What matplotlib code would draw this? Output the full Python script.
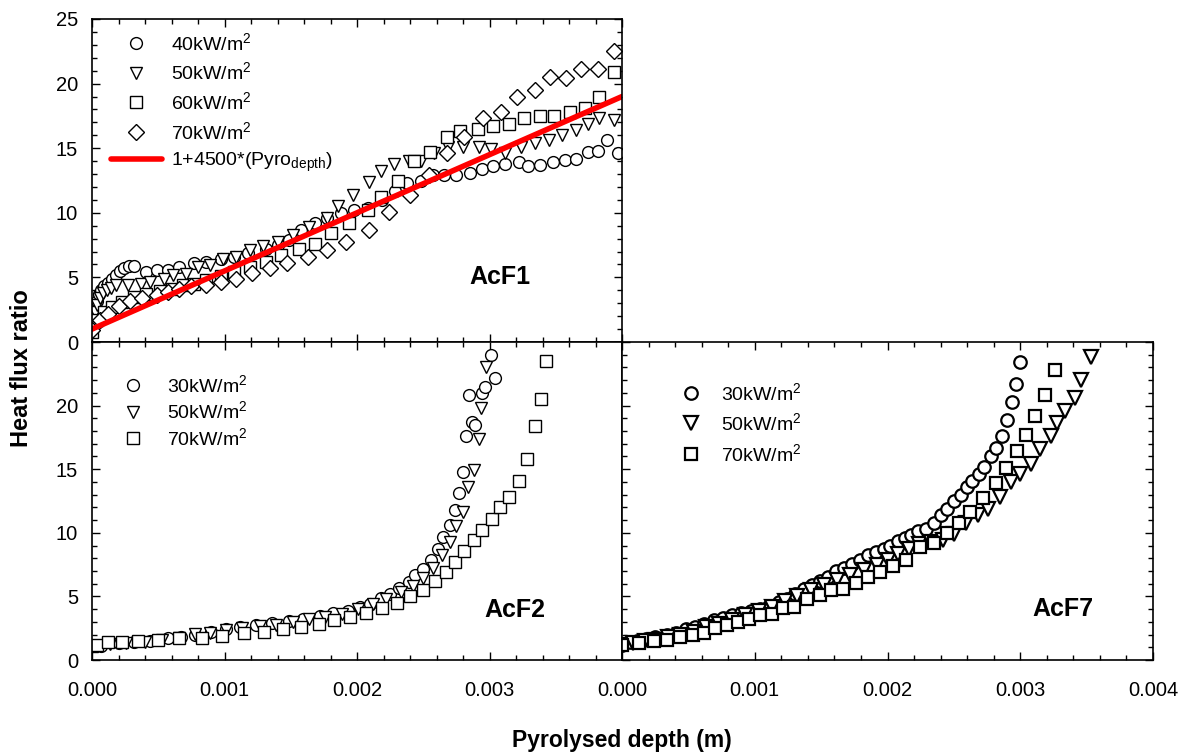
import numpy as np
import matplotlib
matplotlib.use("Agg")
import matplotlib.pyplot as plt
from matplotlib.ticker import MultipleLocator, FormatStrFormatter

plt.rcParams['font.family'] = ['Liberation Sans', 'DejaVu Sans']
plt.rcParams['mathtext.fontset'] = 'custom'
plt.rcParams['mathtext.rm'] = 'Liberation Sans'
plt.rcParams['mathtext.it'] = 'Liberation Sans:italic'
plt.rcParams['mathtext.bf'] = 'Liberation Sans:bold'

# ---------------- AcF1 (x in mm) ----------------
acf1_40_x = [0.00, 0.01, 0.02, 0.035, 0.05, 0.07, 0.09, 0.12, 0.15, 0.18, 0.21, 0.24, 0.28, 0.32, 0.41,
             0.49, 0.57, 0.66, 0.77, 0.86, 0.97, 1.07, 1.18, 1.31, 1.40, 1.49, 1.58, 1.68, 1.77, 1.88,
             1.98, 2.08, 2.19, 2.29, 2.38, 2.48, 2.57, 2.66, 2.75, 2.85, 2.94, 3.03, 3.12, 3.22, 3.29,
             3.38, 3.48, 3.57, 3.65, 3.74, 3.82, 3.89, 3.97]
acf1_40_y = [1.0, 1.8, 2.6, 3.2, 3.7, 4.0, 4.3, 4.6, 4.9, 5.2, 5.5, 5.75, 5.9, 5.85, 5.45,
             5.55, 5.6, 5.8, 6.1, 6.2, 6.45, 6.6, 6.85, 7.2, 7.5, 7.9, 8.7, 9.2, 9.6, 10.0,
             10.2, 10.35, 11.0, 11.7, 12.3, 12.5, 12.9, 12.9, 12.9, 13.1, 13.4, 13.6, 13.8, 13.9, 13.65,
             13.7, 13.9, 14.1, 14.2, 14.7, 14.8, 15.6, 14.6]

acf1_50_x = [0.00, 0.01, 0.025, 0.04, 0.06, 0.08, 0.11, 0.14, 0.18, 0.27, 0.37, 0.44, 0.54, 0.61, 0.71,
             0.80, 0.89, 0.99, 1.09, 1.19, 1.29, 1.40, 1.52, 1.64, 1.77, 1.86, 1.97, 2.09, 2.18, 2.28,
             2.39, 2.48, 2.58, 2.69, 2.80, 2.92, 3.01, 3.12, 3.24, 3.34, 3.45, 3.55, 3.65, 3.74, 3.83, 3.94]
acf1_50_y = [1.0, 1.6, 2.3, 2.9, 3.4, 3.8, 4.0, 4.2, 4.4, 4.4, 4.5, 4.65, 4.9, 5.2, 5.25,
             5.8, 5.95, 6.46, 6.6, 7.1, 7.4, 7.75, 8.3, 8.9, 9.6, 10.5, 11.4, 12.4, 13.2, 13.8,
             14.0, 14.0, 14.6, 15.1, 15.1, 15.1, 14.9, 14.6, 15.1, 15.4, 15.6, 16.0, 16.4, 16.9, 17.3, 17.2]

acf1_60_x = [0.00, 0.04, 0.09, 0.15, 0.23, 0.32, 0.41, 0.51, 0.60, 0.69, 0.77, 0.86, 0.97, 1.07, 1.19,
             1.31, 1.43, 1.56, 1.68, 1.80, 1.94, 2.08, 2.18, 2.31, 2.43, 2.55, 2.68, 2.78, 2.91, 3.03,
             3.15, 3.26, 3.38, 3.49, 3.61, 3.72, 3.83, 3.94]
acf1_60_y = [0.8, 1.7, 2.3, 2.7, 3.1, 3.5, 3.75, 3.95, 4.1, 4.4, 4.5, 4.8, 5.1, 5.4, 5.8,
             6.2, 6.7, 7.2, 7.6, 8.4, 9.2, 10.2, 11.2, 12.5, 14.0, 14.7, 15.9, 16.3, 16.5, 16.7,
             16.9, 17.3, 17.5, 17.5, 17.8, 18.1, 19.0, 20.9]

acf1_70_x = [0.00, 0.06, 0.12, 0.20, 0.29, 0.38, 0.49, 0.57, 0.66, 0.75, 0.86, 0.97, 1.09, 1.21, 1.34,
             1.47, 1.63, 1.77, 1.92, 2.09, 2.24, 2.40, 2.54, 2.68, 2.81, 2.95, 3.09, 3.21, 3.34, 3.46,
             3.58, 3.69, 3.82, 3.94]
acf1_70_y = [0.9, 1.7, 2.2, 2.8, 3.2, 3.4, 3.6, 3.9, 4.1, 4.3, 4.4, 4.65, 4.9, 5.35, 5.7,
             6.1, 6.6, 7.1, 7.75, 8.7, 10.1, 11.4, 12.9, 14.6, 15.9, 17.3, 17.8, 19.0, 19.5, 20.5,
             20.4, 21.1, 21.1, 22.5]

fit_intercept = 1.0
fit_slope = 4500.0
fit_x = [0.0, 0.004]

# ---------------- AcF2 (x in mm) ----------------
acf2_30_x = [0.00, 0.07, 0.20, 0.32, 0.44, 0.57, 0.67, 0.78, 0.90, 1.01, 1.12, 1.24, 1.36, 1.49, 1.59,
             1.72, 1.82, 1.93, 2.02, 2.10, 2.18, 2.25, 2.32, 2.39, 2.44, 2.50, 2.56, 2.61, 2.65, 2.70,
             2.74, 2.77, 2.80, 2.825, 2.846, 2.868, 2.892, 2.944, 2.969, 3.015, 3.043]
acf2_30_y = [1.1, 1.13, 1.33, 1.38, 1.53, 1.70, 1.84, 1.97, 2.22, 2.47, 2.60, 2.78, 2.90, 3.04, 3.24,
             3.44, 3.67, 3.88, 4.13, 4.39, 4.85, 5.15, 5.66, 6.17, 6.68, 7.19, 7.83, 8.72, 9.64, 10.6,
             11.8, 13.1, 14.8, 17.6, 20.8, 18.7, 18.5, 21.0, 21.5, 24.0, 22.2]

acf2_50_x = [0.00, 0.135, 0.26, 0.40, 0.53, 0.66, 0.78, 0.89, 1.01, 1.13, 1.27, 1.39, 1.52, 1.64, 1.76,
             1.89, 2.01, 2.12, 2.22, 2.33, 2.42, 2.50, 2.57, 2.64, 2.70, 2.75, 2.80, 2.84, 2.88, 2.92,
             2.935, 2.975]
acf2_50_y = [1.13, 1.25, 1.33, 1.45, 1.58, 1.71, 2.04, 2.14, 2.35, 2.53, 2.68, 2.73, 2.96, 3.19, 3.39,
             3.65, 3.98, 4.39, 4.77, 5.33, 5.79, 6.48, 7.24, 8.27, 9.29, 10.5, 11.6, 13.6, 14.9, 17.4,
             19.8, 23.0]

acf2_70_x = [0.00, 0.04, 0.12, 0.23, 0.35, 0.50, 0.66, 0.83, 0.98, 1.15, 1.30, 1.44, 1.58, 1.71, 1.83,
             1.95, 2.07, 2.19, 2.30, 2.40, 2.50, 2.59, 2.67, 2.74, 2.81, 2.88, 2.94, 3.02, 3.08, 3.15,
             3.22, 3.28, 3.34, 3.39, 3.43]
acf2_70_y = [1.10, 1.20, 1.40, 1.45, 1.50, 1.60, 1.70, 1.75, 1.85, 2.10, 2.20, 2.40, 2.60, 2.85, 3.15,
             3.35, 3.70, 4.10, 4.45, 5.00, 5.50, 6.20, 6.90, 7.70, 8.60, 9.40, 10.2, 11.1, 12.0, 12.8,
             14.1, 15.8, 18.4, 20.5, 23.5]

# ---------------- AcF7 (x in mm) ----------------
acf7_30_x = [0.00, 0.06, 0.11, 0.18, 0.25, 0.34, 0.41, 0.48, 0.55, 0.62, 0.69, 0.76, 0.83, 0.90, 0.97,
             1.04, 1.11, 1.18, 1.24, 1.30, 1.37, 1.43, 1.49, 1.55, 1.61, 1.67, 1.73, 1.79, 1.85, 1.91,
             1.97, 2.02, 2.08, 2.13, 2.18, 2.23, 2.29, 2.35, 2.40, 2.45, 2.50, 2.55, 2.60, 2.64, 2.69,
             2.73, 2.78, 2.82, 2.86, 2.90, 2.94, 2.97, 3.00]
acf7_30_y = [1.20, 1.38, 1.50, 1.64, 1.79, 1.97, 2.15, 2.40, 2.60, 2.86, 3.12, 3.32, 3.50, 3.68, 3.89,
             4.00, 4.27, 4.53, 4.78, 5.17, 5.55, 5.93, 6.19, 6.50, 6.96, 7.26, 7.52, 7.85, 8.24, 8.49,
             8.75, 9.00, 9.39, 9.57, 9.82, 10.15, 10.3, 10.8, 11.4, 11.9, 12.5, 13.0, 13.6, 14.1, 14.6,
             15.2, 16.0, 16.7, 17.6, 18.85, 20.3, 21.7, 23.4]

acf7_50_x = [0.00, 0.085, 0.17, 0.25, 0.35, 0.44, 0.54, 0.63, 0.73, 0.83, 0.93, 1.03, 1.13, 1.23, 1.32,
             1.42, 1.52, 1.62, 1.72, 1.82, 1.92, 2.00, 2.08, 2.16, 2.24, 2.33, 2.42, 2.50, 2.59, 2.68,
             2.76, 2.85, 2.93, 3.00, 3.08, 3.15, 3.23, 3.28, 3.34, 3.41, 3.46, 3.53]
acf7_50_y = [1.20, 1.33, 1.46, 1.59, 1.79, 1.97, 2.23, 2.56, 2.86, 3.17, 3.50, 3.84, 4.19, 4.65, 5.04,
             5.47, 5.93, 6.32, 6.70, 7.10, 7.50, 7.90, 8.30, 8.70, 9.10, 9.30, 9.40, 9.90, 10.8, 11.4,
             11.9, 12.8, 14.0, 14.6, 15.4, 16.6, 17.6, 18.6, 19.6, 20.6, 22.0, 23.8]

acf7_70_x = [0.00, 0.127, 0.239, 0.338, 0.437, 0.535, 0.62, 0.704, 0.789, 0.873, 0.958, 1.042, 1.127,
             1.211, 1.296, 1.394, 1.493, 1.577, 1.662, 1.761, 1.854, 1.944, 2.042, 2.141, 2.248, 2.352,
             2.445, 2.541, 2.625, 2.718, 2.817, 2.896, 2.972, 3.042, 3.113, 3.183, 3.259]
acf7_70_y = [1.20, 1.33, 1.46, 1.59, 1.79, 1.97, 2.15, 2.48, 2.74, 2.99, 3.25, 3.50, 3.60,
             4.07, 4.19, 4.76, 5.09, 5.47, 5.60, 6.04, 6.50, 6.88, 7.39, 7.90, 8.90, 9.16,
             10.0, 10.8, 11.6, 12.7, 13.9, 15.1, 16.4, 17.7, 19.2, 20.8, 22.8]

MM = 1e-3  # mm -> m

labels_acf1 = ['40kW/m$^2$', '50kW/m$^2$', '60kW/m$^2$', '70kW/m$^2$', '1+4500*(Pyro$_{\\mathrm{depth}}$)']
labels_acf23 = ['30kW/m$^2$', '50kW/m$^2$', '70kW/m$^2$']

W, H = 1187, 754
fig = plt.figure(figsize=(W / 100, H / 100), dpi=100)

def fx(px):
    return px / W

def fy(py):
    return 1 - py / H

L, M, R = 92, 622, 1153
T, J, B = 19, 342, 660
ax1 = fig.add_axes([fx(L), fy(J), fx(M) - fx(L), fy(T) - fy(J)])
ax2 = fig.add_axes([fx(L), fy(B), fx(M) - fx(L), fy(J) - fy(B)])
ax3 = fig.add_axes([fx(M), fy(B), fx(R) - fx(M), fy(J) - fy(B)])

TICK_FS = 14.5
LEG_FS = 14

for ax in (ax1, ax2, ax3):
    ax.set_xlim(0, 0.004)
    ax.set_ylim(0, 25)
    ax.xaxis.set_major_locator(MultipleLocator(0.001))
    ax.xaxis.set_minor_locator(MultipleLocator(0.0002))
    ax.yaxis.set_major_locator(MultipleLocator(5))
    ax.yaxis.set_minor_locator(MultipleLocator(1))
    ax.xaxis.set_major_formatter(FormatStrFormatter('%.3f'))
    ax.tick_params(which='both', direction='in', top=True, right=True, labelsize=TICK_FS, width=1.0)
    ax.tick_params(which='major', length=6)
    ax.tick_params(which='minor', length=3.5)
    ax.tick_params(axis='x', which='major', pad=15)
    ax.tick_params(axis='y', which='major', pad=10)
    for s in ax.spines.values():
        s.set_linewidth(1.2)

ax1.tick_params(labelbottom=False)
ax2.tick_params(which='both', right=False)
ax3.tick_params(labelleft=False)

mk = dict(linestyle='none', markerfacecolor='white', markeredgecolor='black', markeredgewidth=1.0)

# AcF1
ax1.plot(np.array(acf1_40_x) * MM, acf1_40_y, marker='o', markersize=8.5, label=labels_acf1[0], **mk)
ax1.plot(np.array(acf1_50_x) * MM, acf1_50_y, marker='v', markersize=9, label=labels_acf1[1], **mk)
ax1.plot(np.array(acf1_60_x) * MM, acf1_60_y, marker='s', markersize=8, label=labels_acf1[2], **mk)
ax1.plot(np.array(acf1_70_x) * MM, acf1_70_y, marker='D', markersize=8, label=labels_acf1[3], **mk)
fx_arr = np.array(fit_x)
ax1.plot(fx_arr, fit_intercept + fit_slope * fx_arr, color='#ff0000', linewidth=4, label=labels_acf1[4],
         solid_capstyle='round')
ax1.legend(loc='upper left', bbox_to_anchor=(0.036, 0.96), frameon=False, fontsize=LEG_FS,
           handlelength=2.6, handletextpad=0.5, labelspacing=0.4, borderpad=0, borderaxespad=0)
ax1.text(0.00308, 5.0, 'AcF1', fontsize=18, fontweight='bold', ha='center', va='center')

# AcF2
ax2.plot(np.array(acf2_30_x) * MM, acf2_30_y, marker='o', markersize=8.5, label=labels_acf23[0], **mk)
ax2.plot(np.array(acf2_50_x) * MM, acf2_50_y, marker='v', markersize=9, label=labels_acf23[1], **mk)
ax2.plot(np.array(acf2_70_x) * MM, acf2_70_y, marker='s', markersize=8, label=labels_acf23[2], **mk)
ax2.legend(loc='upper left', bbox_to_anchor=(0.04, 0.9), frameon=False, fontsize=LEG_FS,
           handlelength=2.0, handletextpad=0.75, labelspacing=0.25, borderpad=0, borderaxespad=0)
ax2.text(0.00319, 3.9, 'AcF2', fontsize=18, fontweight='bold', ha='center', va='center')

# AcF7
mk3 = dict(mk)
mk3['markeredgewidth'] = 1.6
ax3.plot(np.array(acf7_30_x) * MM, acf7_30_y, marker='o', markersize=9, label=labels_acf23[0], **mk3)
ax3.plot(np.array(acf7_50_x) * MM, acf7_50_y, marker='v', markersize=9.5, label=labels_acf23[1], **mk3)
ax3.plot(np.array(acf7_70_x) * MM, acf7_70_y, marker='s', markersize=8.5, label=labels_acf23[2], **mk3)
ax3.legend(loc='upper left', bbox_to_anchor=(0.094, 0.875), frameon=False, fontsize=LEG_FS,
           handlelength=2.0, handletextpad=0.55, labelspacing=0.45, borderpad=0, borderaxespad=0)
ax3.text(0.00332, 4.0, 'AcF7', fontsize=18, fontweight='bold', ha='center', va='center')

# hide overlapping labels
ax2.set_yticks([0, 5, 10, 15, 20, 25])
ax2.set_yticklabels(['0', '5', '10', '15', '20', ''])
ax2.set_xticks([0, 0.001, 0.002, 0.003, 0.004])
ax2.set_xticklabels(['0.000', '0.001', '0.002', '0.003', ''])

fig.text(fx(622), fy(740), 'Pyrolysed depth (m)', fontsize=16.5, fontweight='bold', ha='center', va='center')
fig.text(fx(22), fy(368), 'Heat flux ratio', fontsize=17, fontweight='bold', ha='center', va='center',
         rotation=90)

fig.savefig('out.png', dpi=100)
